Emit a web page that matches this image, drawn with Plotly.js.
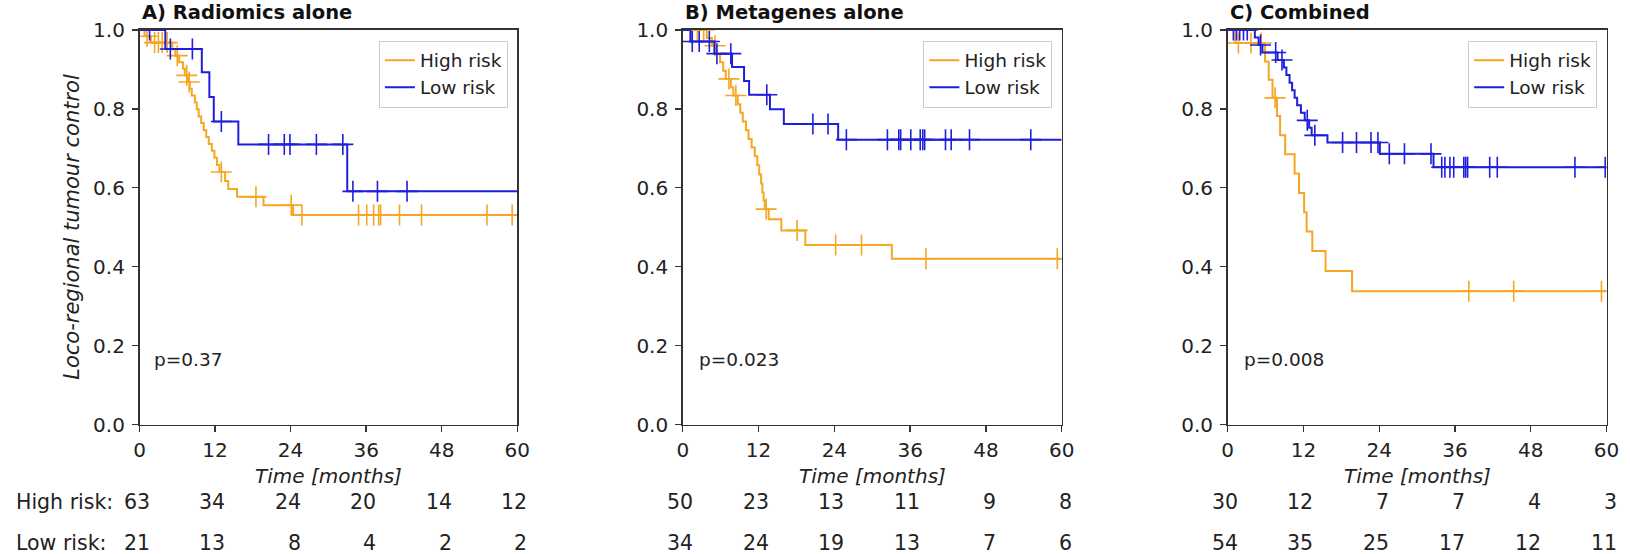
<!DOCTYPE html>
<html>
<head>
<meta charset="utf-8">
<script src="https://cdn.plot.ly/plotly-3.0.1.min.js"></script>
<style>
  html, body { margin: 0; padding: 0; background: #fff; }
  #chart { width: 1630px; height: 554px; }
</style>
</head>
<body>
<div id="chart"></div>
<script>
// ---------- Data ----------
const titles = ['A) Radiomics alone', 'B) Metagenes alone', 'C) Combined'];
const pValues = ['p=0.37', 'p=0.023', 'p=0.008'];
const groupNames = ['High risk', 'Low risk'];
const riskTicks = [0, 12, 24, 36, 48, 60];
const riskRowLabels = ['High risk:', 'Low risk:'];

// Panel A - Radiomics alone
const aHighT = [0, 0.8, 1.8, 5.2, 5.7, 6.3, 6.9, 7.2, 7.7, 8.0, 8.3, 8.8, 9.1, 9.4, 9.8, 10.2, 10.6, 11.0, 11.5, 11.9, 12.3, 12.7, 13.6, 14.1, 15.5, 19.7, 24.4, 60];
const aHighS = [1.0, 0.984, 0.968, 0.951, 0.935, 0.918, 0.902, 0.885, 0.868, 0.851, 0.834, 0.816, 0.799, 0.781, 0.764, 0.746, 0.729, 0.711, 0.694, 0.676, 0.658, 0.640, 0.617, 0.597, 0.577, 0.556, 0.531, 0.531];
const aHighCens = [1.2, 2.4, 3.0, 3.6, 4.4, 6.0, 7.5, 7.9, 13.0, 18.5, 24.1, 25.8, 34.8, 36.1, 37.2, 38.0, 38.3, 41.3, 44.8, 55.2, 59.2];
const aLowT = [0, 4.1, 9.9, 11.1, 11.8, 15.7, 33.0, 60];
const aLowS = [1.0, 0.952, 0.893, 0.830, 0.768, 0.710, 0.591, 0.591];
const aLowCens = [1.6, 4.9, 8.4, 13.0, 20.5, 23.0, 23.9, 28.1, 32.3, 33.9, 37.8, 42.5];
const aHighRisk = [63, 34, 24, 20, 14, 12];
const aLowRisk = [21, 13, 8, 4, 2, 2];

// Panel B - Metagenes alone
const bHighT = [0, 3.8, 4.6, 5.3, 5.9, 6.4, 6.8, 7.6, 8.0, 8.7, 9.1, 9.5, 10.0, 10.4, 10.9, 11.4, 11.8, 12.1, 12.4, 12.6, 12.8, 13.0, 13.6, 15.6, 19.4, 33.1, 60];
const bHighS = [1.0, 0.980, 0.960, 0.939, 0.918, 0.897, 0.876, 0.855, 0.834, 0.812, 0.790, 0.768, 0.746, 0.724, 0.702, 0.680, 0.657, 0.634, 0.611, 0.588, 0.567, 0.546, 0.520, 0.492, 0.455, 0.420, 0.420];
const bHighCens = [1.4, 2.3, 3.3, 5.1, 7.3, 8.4, 13.2, 18.1, 24.2, 28.3, 38.5, 59.3];
const bLowT = [0, 1.2, 5.0, 7.8, 9.7, 10.5, 13.8, 16.0, 24.6, 60];
const bLowS = [1.0, 0.971, 0.940, 0.906, 0.871, 0.836, 0.799, 0.762, 0.722, 0.722];
const bLowCens = [1.5, 2.6, 4.2, 5.4, 7.6, 13.3, 20.6, 23.0, 25.9, 32.4, 34.2, 34.5, 36.1, 37.6, 38.0, 38.3, 41.6, 42.5, 45.4, 55.1];
const bHighRisk = [50, 23, 13, 11, 9, 8];
const bLowRisk = [34, 24, 19, 13, 7, 6];

// Panel C - Combined
const cHighT = [0, 1.2, 5.9, 6.5, 7.1, 7.8, 8.3, 9.1, 10.6, 11.3, 12.1, 12.5, 13.4, 15.5, 19.7, 60];
const cHighS = [1.0, 0.967, 0.920, 0.874, 0.828, 0.782, 0.733, 0.685, 0.636, 0.587, 0.538, 0.489, 0.440, 0.389, 0.338, 0.338];
const cHighCens = [1.7, 3.7, 5.3, 7.5, 38.2, 45.3, 59.2];
const cLowT = [0, 4.3, 4.9, 5.5, 7.9, 8.9, 9.3, 9.8, 10.2, 10.6, 11.0, 11.6, 12.2, 12.9, 13.3, 15.8, 24.1, 32.6, 60];
const cLowS = [1.0, 0.981, 0.962, 0.943, 0.924, 0.905, 0.886, 0.866, 0.847, 0.828, 0.809, 0.790, 0.771, 0.752, 0.733, 0.715, 0.686, 0.652, 0.652];
const cLowCens = [0.9, 1.4, 1.9, 2.5, 3.1, 5.2, 7.6, 8.6, 12.6, 13.8, 18.2, 20.4, 22.7, 23.8, 25.6, 28.0, 32.2, 33.9, 34.4, 35.2, 35.8, 37.4, 37.7, 38.0, 41.5, 42.7, 55.0, 59.8];
const cHighRisk = [30, 12, 7, 7, 4, 3];
const cLowRisk = [54, 35, 25, 17, 12, 11];

// ---------- Styling ----------
const W = 1630, H = 554;
const FONT = 'DejaVu Sans';
const TXT = '#222222';
const COLORS = ['#F5A623', '#1E1EDC'];
const xDomains = [[139.5 / W, 517.2 / W], [682.8 / W, 1061.7 / W], [1227.7 / W, 1606.5 / W]];
const yDomain = [1 - 424.5 / H, 1 - 30 / H];
const legendRight = [507.9 / W, 1052.4 / W, 1597.2 / W];
const legendTop = 1 - 40.6 / H;
const riskRowY = [1 - 501.5 / H, 1 - 543 / H];

const panels = [
  {high: [aHighT, aHighS, aHighCens], low: [aLowT, aLowS, aLowCens], risk: [aHighRisk, aLowRisk], px: 2.0},
  {high: [bHighT, bHighS, bHighCens], low: [bLowT, bLowS, bLowCens], risk: [bHighRisk, bLowRisk], px: 2.3},
  {high: [cHighT, cHighS, cHighCens], low: [cLowT, cLowS, cLowCens], risk: [cHighRisk, cLowRisk], px: 2.3}
];

function stepAt(t, T, S) {
  let v = S[0];
  for (let i = 0; i < T.length; i++) { if (T[i] <= t) v = S[i]; }
  return v;
}

const traces = [];
const annotations = [];
const layout = {
  width: W, height: H,
  margin: {l: 0, r: 0, t: 0, b: 0},
  paper_bgcolor: '#ffffff', plot_bgcolor: '#ffffff',
  font: {family: FONT, color: TXT, size: 18},
  showlegend: true
};

panels.forEach((p, k) => {
  const sfx = k === 0 ? '' : String(k + 1);
  const xa = 'x' + sfx, ya = 'y' + sfx;
  const legName = 'legend' + sfx;
  [p.high, p.low].forEach((g, gi) => {
    const [T, S, C] = g;
    traces.push({
      type: 'scatter', mode: 'lines', x: T, y: S,
      line: {shape: 'hv', color: COLORS[gi], width: 2},
      name: groupNames[gi], legend: legName, xaxis: xa, yaxis: ya,
      hoverinfo: 'skip'
    });
    traces.push({
      type: 'scatter', mode: 'markers', x: C, y: C.map(t => stepAt(t, T, S)),
      marker: {symbol: 'cross-thin-open', size: 15, color: COLORS[gi], line: {color: COLORS[gi], width: 1.6}},
      showlegend: false, xaxis: xa, yaxis: ya, hoverinfo: 'skip'
    });
  });

  layout['xaxis' + sfx] = {
    domain: xDomains[k], anchor: ya, range: [0, 60],
    tickvals: riskTicks, ticks: 'outside', ticklen: 6, tickwidth: 1.3, tickcolor: '#333',
    showline: true, linecolor: '#333', linewidth: 1.6, mirror: true,
    showgrid: false, zeroline: false, fixedrange: true,
    ticklabelstandoff: 1,
    tickfont: {family: FONT, size: 20, color: TXT}
  };
  layout['yaxis' + sfx] = {
    domain: yDomain, anchor: xa, range: [0, 1],
    tickvals: [0, 0.2, 0.4, 0.6, 0.8, 1.0], tickformat: '.1f',
    ticks: 'outside', ticklen: 6, tickwidth: 1.3, tickcolor: '#333',
    showline: true, linecolor: '#333', linewidth: 1.6, mirror: true,
    showgrid: false, zeroline: false, fixedrange: true,
    ticklabelstandoff: 3,
    tickfont: {family: FONT, size: 20, color: TXT}
  };
  layout[legName] = {
    x: legendRight[k], y: legendTop, xanchor: 'right', yanchor: 'top',
    xref: 'paper', yref: 'paper',
    bgcolor: 'rgba(255,255,255,0.85)', bordercolor: '#cccccc', borderwidth: 1,
    font: {family: FONT, size: 18.5, color: TXT},
    tracegroupgap: 0
  };

  // panel title
  annotations.push({
    text: titles[k], xref: xa + ' domain', yref: ya + ' domain', x: 0, y: 1,
    xanchor: 'left', yanchor: 'bottom', yshift: 4, showarrow: false,
    font: {family: FONT, size: 19.5, color: '#111', weight: 'bold'}
  });
  // p-value
  annotations.push({
    text: pValues[k], xref: xa, yref: ya, x: p.px, y: 0.166,
    xanchor: 'left', yanchor: 'middle', showarrow: false,
    font: {family: FONT, size: 18.5, color: TXT}
  });
  // x-axis title
  annotations.push({
    text: 'Time [months]', xref: xa + ' domain', yref: 'paper', x: 0.5, y: 1 - 476 / H,
    xanchor: 'center', yanchor: 'middle', showarrow: false,
    font: {family: FONT, size: 20, color: TXT, style: 'italic'}
  });
  // numbers at risk
  p.risk.forEach((row, ri) => {
    row.forEach((n, ti) => {
      annotations.push({
        text: String(n), xref: xa, yref: 'paper', x: riskTicks[ti], y: riskRowY[ri],
        xanchor: 'right', yanchor: 'middle', xshift: 12, showarrow: false,
        font: {family: FONT, size: 20.5, color: TXT}
      });
    });
  });
});

// row labels of the at-risk table
riskRowLabels.forEach((lab, ri) => {
  annotations.push({
    text: lab, xref: 'paper', yref: 'paper', x: 13.8 / W, y: riskRowY[ri],
    xanchor: 'left', yanchor: 'middle', showarrow: false,
    font: {family: FONT, size: 20.5, color: TXT}
  });
});

// y-axis title (panel A only)
annotations.push({
  text: 'Loco-regional tumour control', xref: 'paper', yref: 'paper',
  x: 72.5 / W, y: (yDomain[0] + yDomain[1]) / 2, textangle: -90,
  xanchor: 'center', yanchor: 'middle', showarrow: false,
  font: {family: FONT, size: 21, color: TXT, style: 'italic'}
});

layout.annotations = annotations;

Plotly.newPlot('chart', traces, layout, {displayModeBar: false, staticPlot: true});
</script>
</body>
</html>
